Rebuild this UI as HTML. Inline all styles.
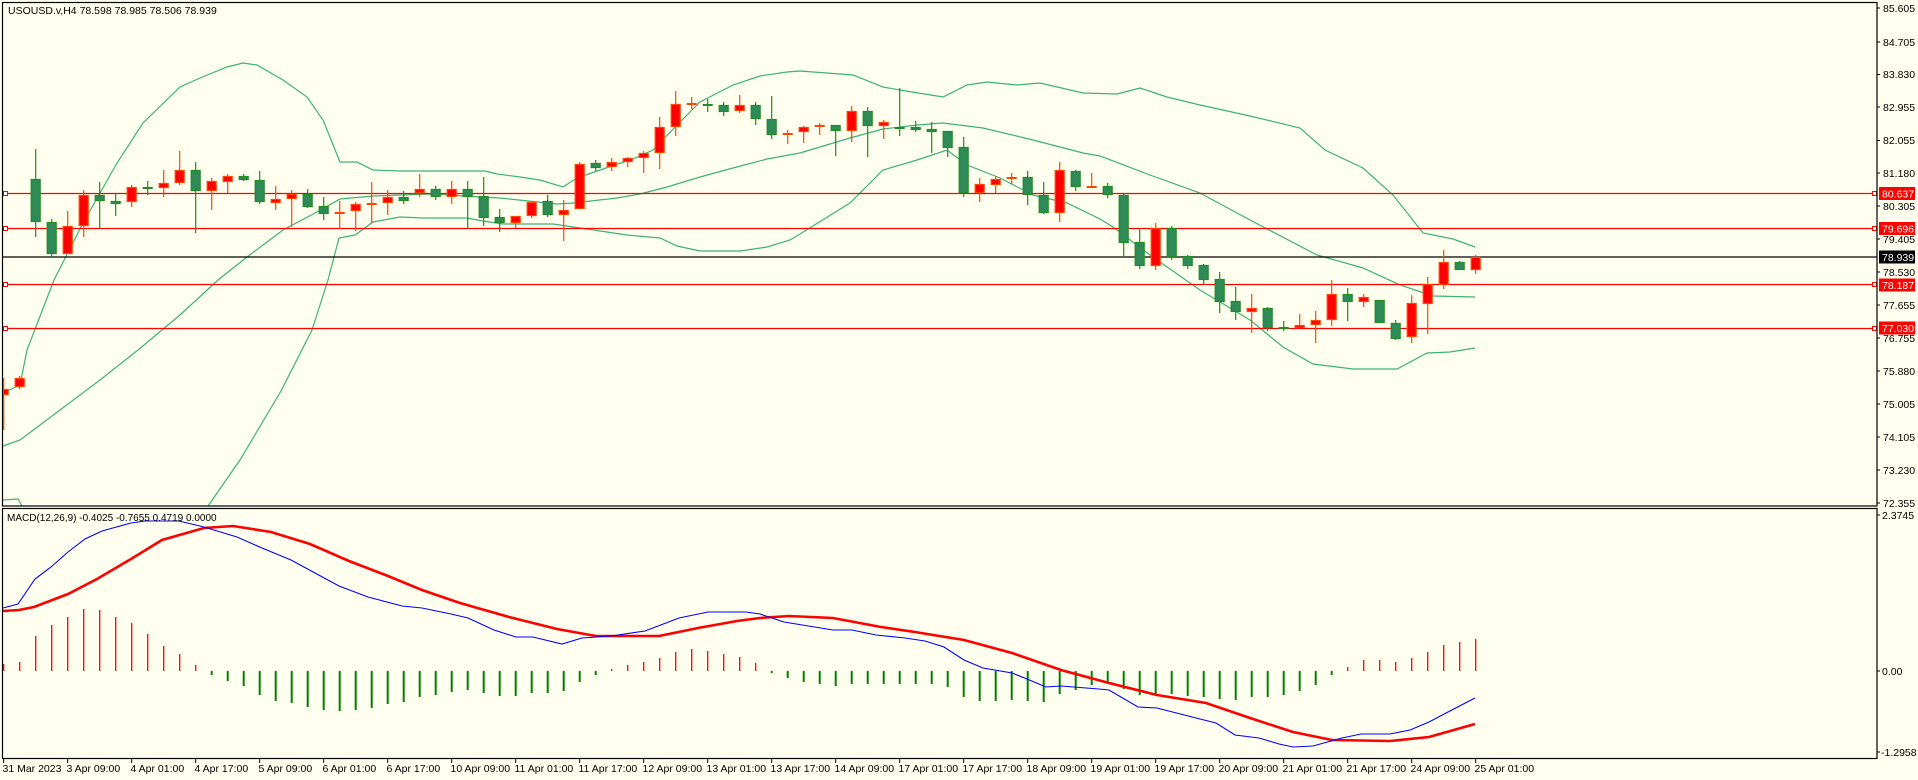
<!DOCTYPE html>
<html><head><meta charset="utf-8"><style>
html,body{margin:0;padding:0;background:#fffff0;}
svg{display:block;font-family:"Liberation Sans",sans-serif;font-size:10.5px;}
</style></head><body>
<svg id="c" width="1918" height="780" viewBox="0 0 1918 780" xmlns="http://www.w3.org/2000/svg">
<rect x="0" y="0" width="1918" height="780" fill="#fffff0"/>
<g id="bands"></g>
<g id="hlines">
<line x1="2" y1="193.5" x2="1877" y2="193.5" stroke="#ff0000" stroke-width="1.3"/>
<line x1="2" y1="228.5" x2="1877" y2="228.5" stroke="#ff0000" stroke-width="1.3"/>
<line x1="2" y1="284.5" x2="1877" y2="284.5" stroke="#ff0000" stroke-width="1.3"/>
<line x1="2" y1="328.5" x2="1877" y2="328.5" stroke="#ff0000" stroke-width="1.3"/>
<line x1="2" y1="257" x2="1877" y2="257" stroke="#000" stroke-width="1.3"/>
<rect x="3.5" y="191.5" width="4" height="4" fill="#fff" stroke="#f00"/>
<rect x="3.5" y="226.5" width="4" height="4" fill="#fff" stroke="#f00"/>
<rect x="3.5" y="282.5" width="4" height="4" fill="#fff" stroke="#f00"/>
<rect x="3.5" y="326.5" width="4" height="4" fill="#fff" stroke="#f00"/>
<rect x="1872.5" y="191.5" width="4" height="4" fill="#fff" stroke="#f00"/>
<rect x="1872.5" y="226.5" width="4" height="4" fill="#fff" stroke="#f00"/>
<rect x="1872.5" y="282.5" width="4" height="4" fill="#fff" stroke="#f00"/>
<rect x="1872.5" y="326.5" width="4" height="4" fill="#fff" stroke="#f00"/>
</g>
<g id="candles"></g>
<g id="macd"></g>
<!-- frames -->
<rect x="2.5" y="2.5" width="1874.5" height="503.5" fill="none" stroke="#000" stroke-width="1.2"/>
<rect x="2.5" y="508.5" width="1874.5" height="250" fill="none" stroke="#000" stroke-width="1.2"/>
<g fill="#000">
<text x="8" y="14">USOUSD.v,H4  78.598 78.985 78.506 78.939</text>
<text x="7" y="521" font-size="10px">MACD(12,26,9) -0.4025 -0.7655 0.4719 0.0000</text>
</g>
<g id="yaxis" fill="#000" stroke="#000">
<line x1="1877" y1="8" x2="1880" y2="8"/><text stroke="none" x="1883" y="12">85.605</text>
<line x1="1877" y1="42" x2="1880" y2="42"/><text stroke="none" x="1883" y="46">84.705</text>
<line x1="1877" y1="74.5" x2="1880" y2="74.5"/><text stroke="none" x="1883" y="78">83.830</text>
<line x1="1877" y1="107" x2="1880" y2="107"/><text stroke="none" x="1883" y="111">82.955</text>
<line x1="1877" y1="140.5" x2="1880" y2="140.5"/><text stroke="none" x="1883" y="144">82.055</text>
<line x1="1877" y1="173" x2="1880" y2="173"/><text stroke="none" x="1883" y="177">81.180</text>
<line x1="1877" y1="206" x2="1880" y2="206"/><text stroke="none" x="1883" y="210">80.305</text>
<line x1="1877" y1="239" x2="1880" y2="239"/><text stroke="none" x="1883" y="243">79.405</text>
<line x1="1877" y1="272" x2="1880" y2="272"/><text stroke="none" x="1883" y="276">78.530</text>
<line x1="1877" y1="305" x2="1880" y2="305"/><text stroke="none" x="1883" y="309">77.655</text>
<line x1="1877" y1="338" x2="1880" y2="338"/><text stroke="none" x="1883" y="342">76.755</text>
<line x1="1877" y1="371" x2="1880" y2="371"/><text stroke="none" x="1883" y="375">75.880</text>
<line x1="1877" y1="404" x2="1880" y2="404"/><text stroke="none" x="1883" y="408">75.005</text>
<line x1="1877" y1="437" x2="1880" y2="437"/><text stroke="none" x="1883" y="441">74.105</text>
<line x1="1877" y1="470" x2="1880" y2="470"/><text stroke="none" x="1883" y="474">73.230</text>
<line x1="1877" y1="503" x2="1880" y2="503"/><text stroke="none" x="1883" y="507">72.355</text>
<line x1="1877" y1="515" x2="1880" y2="515"/><text stroke="none" x="1882" y="519">2.3745</text>
<line x1="1877" y1="671" x2="1880" y2="671"/><text stroke="none" x="1882" y="675">0.00</text>
<line x1="1877" y1="752" x2="1880" y2="752"/><text stroke="none" x="1881" y="756">-1.2958</text>
</g>
<g font-size="10.5px">
<rect x="1879" y="187" width="36" height="13" fill="#ff0000"/><text x="1882" y="197.5" fill="#fff">80.637</text>
<rect x="1879" y="222" width="36" height="13" fill="#ff0000"/><text x="1882" y="232.5" fill="#fff">79.696</text>
<rect x="1879" y="250.5" width="36" height="13" fill="#000"/><text x="1882" y="261" fill="#fff">78.939</text>
<rect x="1879" y="278.5" width="36" height="13" fill="#ff0000"/><text x="1882" y="289" fill="#fff">78.187</text>
<rect x="1879" y="321.5" width="36" height="13" fill="#ff0000"/><text x="1882" y="332" fill="#fff">77.030</text>
</g>
<g id="xaxis" fill="#000">
<text x="2.5" y="772">31 Mar 2023</text>
<text x="66.5" y="772">3 Apr 09:00</text>
<text x="130.5" y="772">4 Apr 01:00</text>
<text x="194.5" y="772">4 Apr 17:00</text>
<text x="258.5" y="772">5 Apr 09:00</text>
<text x="322.5" y="772">6 Apr 01:00</text>
<text x="386.5" y="772">6 Apr 17:00</text>
<text x="450.5" y="772">10 Apr 09:00</text>
<text x="514.5" y="772">11 Apr 01:00</text>
<text x="578.5" y="772">11 Apr 17:00</text>
<text x="642.5" y="772">12 Apr 09:00</text>
<text x="706.5" y="772">13 Apr 01:00</text>
<text x="770.5" y="772">13 Apr 17:00</text>
<text x="834.5" y="772">14 Apr 09:00</text>
<text x="898.5" y="772">17 Apr 01:00</text>
<text x="962.5" y="772">17 Apr 17:00</text>
<text x="1026.5" y="772">18 Apr 09:00</text>
<text x="1090.5" y="772">19 Apr 01:00</text>
<text x="1154.5" y="772">19 Apr 17:00</text>
<text x="1218.5" y="772">20 Apr 09:00</text>
<text x="1282.5" y="772">21 Apr 01:00</text>
<text x="1346.5" y="772">21 Apr 17:00</text>
<text x="1410.5" y="772">24 Apr 09:00</text>
<text x="1474.5" y="772">25 Apr 01:00</text>
</g>
<g id="xt"></g>
</svg>
<script>
var NS="http://www.w3.org/2000/svg";
function el(p,t,a){var e=document.createElementNS(NS,t);for(var k in a)e.setAttribute(k,a[k]);p.appendChild(e);return e;}
function X(k){return 3.7+16*k;}
var svg=document.getElementById('c');
// bands
var up=[[3,393],[20,385],[27,350],[54,280],[83,223],[117,163],[143,123],[180,87],[200,78],[227,67],[243,63],[257,65],[283,80],[307,97],[323,120],[340,162],[357,162],[373,170],[400,171],[485,171],[497,174],[520,177],[540,180],[563,187],[577,178],[600,170],[633,159],[653,150],[677,125],[700,102],[733,85],[760,76],[787,72],[800,71],[853,75],[883,87],[900,90],[943,97],[967,85],[987,82],[1017,85],[1040,83],[1083,93],[1117,94],[1140,88],[1167,97],[1200,105],[1250,116],[1300,128],[1325,150],[1363,168],[1393,195],[1423,233],[1453,239],[1475,247]];
var mid=[[3,446],[20,440],[60,410],[100,380],[138,350],[180,315],[218,280],[247,257],[283,230],[317,212],[340,199],[373,196],[400,195],[433,194],[480,197],[500,198],[557,204],[573,203],[617,198],[640,194],[667,187],[700,177],[733,168],[767,159],[800,153],[850,138],[883,129],[917,125],[943,123],[983,128],[1033,140],[1083,153],[1100,156],[1150,175],[1200,193],[1250,220],[1317,255],[1363,268],[1400,285],[1433,296],[1475,297]];
var lo1=[[3,500],[18,499],[22,506]];
var lo=[[208,506],[240,460],[281,391],[312,330],[328,280],[339,238],[355,235],[373,222],[400,217],[423,218],[467,218],[483,221],[503,224],[553,224],[580,228],[627,235],[660,238],[677,246],[700,251],[740,251],[767,247],[790,240],[800,234],[850,203],[883,170],[917,160],[947,150],[967,165],[1000,178],[1033,195],[1067,203],[1100,219],[1113,227],[1150,255],[1200,290],[1250,320],[1283,347],[1313,364],[1353,369],[1397,369],[1427,353],[1450,352],[1475,348]];
var bg=document.getElementById('bands');
[up,mid,lo1,lo].forEach(function(a){el(bg,'polyline',{points:a.map(function(p){return p.join(',')}).join(' '),fill:'none',stroke:'#3cb371','stroke-width':1.2});});
// candles: k,color(1=red bull,0=green bear),bodyTop,bodyBot,wickTop,wickBot
var C=[[0,1,389,395,378,430],[1,1,378,387,376,389],[2,0,179,222,149,237],[3,0,222,254,219,257],[4,1,226,254,211,254],[5,1,195,226,190,237],[6,0,195,201,182,229],[7,0,201,204,194,216],[8,1,187,202,185,207],[9,0,187,188,181,195],[10,1,183,188,170,197],[11,1,170,183,151,185],[12,0,170,191,162,233],[13,1,181,191,178,210],[14,1,176,182,174,193],[15,0,176,180,174,181],[16,0,180,202,171,204],[17,1,199,203,186,210],[18,1,194,199,190,227],[19,0,194,207,189,208],[20,0,206,214,197,220],[21,1,212,214,201,229],[22,1,204,211,202,231],[23,1,203,205,182,223],[24,1,197,203,190,215],[25,0,197,201,191,204],[26,1,189,193,174,197],[27,0,189,197,186,200],[28,1,189,197,181,204],[29,0,189,197,181,229],[30,0,196,218,177,226],[31,0,217,223,209,232],[32,1,216,223,216,228],[33,1,202,216,202,218],[34,0,201,215,195,217],[35,1,210,215,200,241],[36,1,164,209,162,209],[37,0,163,168,160,171],[38,1,162,167,158,171],[39,1,158,162,157,167],[40,1,153,158,151,173],[41,1,127,153,117,169],[42,1,104,127,91,136],[43,1,103,104,97,109],[44,0,104,105,99,112],[45,0,105,112,102,116],[46,1,105,111,95,113],[47,0,105,119,102,125],[48,0,119,135,96,139],[49,1,133,135,130,144],[50,1,127,132,126,143],[51,1,125,127,123,135],[52,0,125,131,125,156],[53,1,111,131,106,142],[54,0,111,126,107,157],[55,1,122,126,120,139],[56,0,127,128,88,136],[57,0,127,130,121,132],[58,0,129,132,122,153],[59,0,131,148,131,157],[60,0,147,193,137,197],[61,1,184,193,178,202],[62,1,179,185,176,193],[63,1,177,179,173,184],[64,0,177,195,171,205],[65,0,195,213,182,214],[66,1,170,213,162,222],[67,0,171,187,170,191],[68,1,186,187,173,187],[69,0,186,195,183,198],[70,0,195,243,194,257],[71,0,242,266,228,269],[72,1,228,266,223,270],[73,0,228,257,226,260],[74,0,256,266,255,269],[75,0,265,280,264,285],[76,0,279,302,272,313],[77,0,301,312,287,320],[78,1,308,312,294,333],[79,0,308,328,307,331],[80,0,327,328,321,331],[81,1,325,328,314,328],[82,1,320,325,311,343],[83,1,294,320,280,326],[84,0,294,302,288,321],[85,1,297,302,294,307],[86,0,300,323,300,323],[87,0,323,339,320,340],[88,1,303,337,295,343],[89,1,284,304,277,334],[90,1,262,285,250,289],[91,0,262,270,261,270],[92,1,257,270,255,274]];
var cg=document.getElementById('candles');
C.forEach(function(c){var x=X(c[0]);var w=c[1]?'#ff4500':'#228b22';var f=c[1]?'#ff0000':'#2e8b57';
el(cg,'line',{x1:x,y1:c[4],x2:x,y2:c[5],stroke:w,'stroke-width':1.2});
var h=Math.max(c[3]-c[2],1);var x0=Math.max(x-5,3);
if(h<=2){el(cg,'rect',{x:x0,y:c[2],width:x+5-x0,height:2,fill:w});}
else el(cg,'rect',{x:x0+0.5,y:c[2]+0.5,width:x+5-x0-1,height:h-1,fill:f,stroke:w,'stroke-width':1.2});});
// histogram
var H=[664,662,636,625,617,609,610,617,623,634,646,654,665,675,681,686,695,701,703,707,710,711,710,708,704,702,697,695,692,690,693,696,696,693,693,691,682,675,669,665,662,658,652,649,651,654,657,663,672,678,682,684,686,684,684,684,684,684,684,687,697,701,701,700,701,702,694,690,685,682,689,695,694,694,696,697,699,700,697,697,695,691,685,675,667,660,660,662,658,652,645,642,639];
var mg=document.getElementById('macd');
H.forEach(function(y,k){var x=X(k);var red=y<671;el(mg,'line',{x1:x,y1:671,x2:x,y2:red?y:Math.max(y,673),stroke:red?'#ff0000':'#008000','stroke-width':red?1.3:2});});
var blue=[[3,608],[18,604],[35,579],[51,567],[68,552],[85,539],[102,531],[131,523],[145,521],[179,521],[204,527],[237,537],[262,548],[291,560],[315,573],[339,586],[368,597],[402,606],[422,608],[451,614],[468,618],[494,630],[516,637],[533,637],[562,644],[582,638],[611,636],[645,631],[679,618],[708,612],[727,612],[746,612],[760,614],[784,622],[833,630],[852,630],[876,635],[905,638],[925,641],[944,647],[964,660],[983,668],[1012,673],[1027,679],[1046,687],[1061,686],[1099,689],[1109,690],[1138,707],[1157,708],[1196,718],[1216,723],[1235,735],[1259,738],[1279,744],[1293,747],[1313,746],[1342,738],[1361,734],[1390,734],[1410,730],[1429,722],[1448,712],[1475,698]];
var red=[[3,611],[19,610],[34,607],[68,594],[97,579],[131,559],[162,540],[204,528],[233,526],[271,532],[310,544],[349,561],[388,576],[422,590],[460,603],[509,617],[557,629],[596,636],[659,636],[698,628],[737,621],[760,618],[789,616],[833,618],[881,627],[915,632],[964,640],[1012,653],[1061,670],[1109,683],[1157,695],[1206,703],[1250,718],[1293,732],[1332,740],[1390,741],[1429,737],[1475,724]];
el(mg,'polyline',{points:red.map(function(p){return p.join(',')}).join(' '),fill:'none',stroke:'#ff0000','stroke-width':2.6});
el(mg,'polyline',{points:blue.map(function(p){return p.join(',')}).join(' '),fill:'none',stroke:'#0000ff','stroke-width':1.1});
var xt=document.getElementById('xt');
for(var k=0;k<=92;k+=4){el(xt,'line',{x1:X(k),y1:759,x2:X(k),y2:763,stroke:'#000'});}
</script>
</body></html>
